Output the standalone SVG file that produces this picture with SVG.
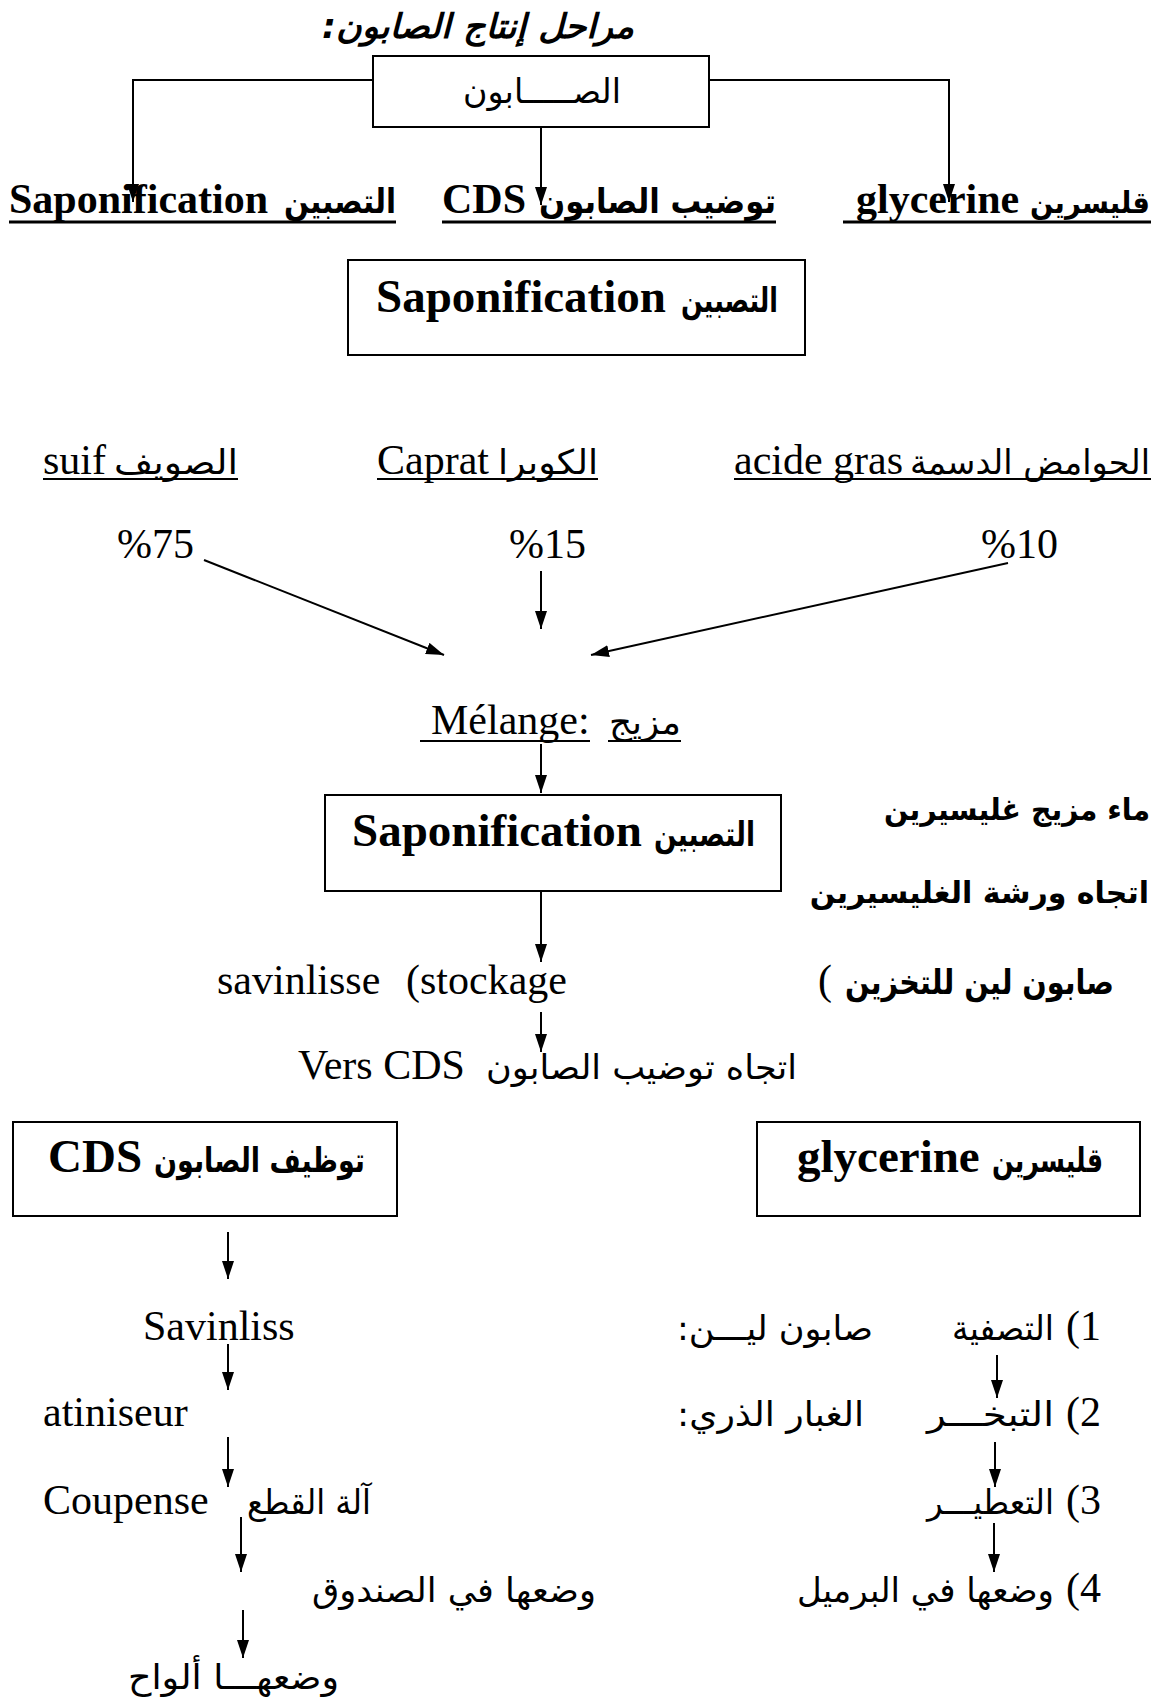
<svg xmlns="http://www.w3.org/2000/svg" width="1163" height="1699" viewBox="0 0 1163 1699">
<style>
.lat{font-family:"Liberation Serif","Times New Roman",serif;font-size:42px;fill:#000}
.latb{font-family:"Liberation Serif","Times New Roman",serif;font-size:42px;font-weight:bold;fill:#000}
.latB{font-family:"Liberation Serif","Times New Roman",serif;font-size:47px;font-weight:bold;fill:#000}
.ar{font-family:"DejaVu Sans","Noto Sans",sans-serif;font-size:34px;fill:#000;text-anchor:middle;direction:rtl;unicode-bidi:embed}
.arb{font-family:"DejaVu Sans","Noto Sans",sans-serif;font-size:34px;font-weight:bold;fill:#000;text-anchor:middle;direction:rtl;unicode-bidi:embed}
.arbe{font-family:"DejaVu Sans","Noto Sans",sans-serif;font-size:30px;font-weight:bold;fill:#000;text-anchor:end}
.box{fill:#fff;stroke:#000;stroke-width:2}
.ul{stroke:#000;stroke-width:2}
.ulb{stroke:#000;stroke-width:3}
.cn{fill:none;stroke:#000;stroke-width:2;marker-end:url(#ah)}
</style>
<defs>
<marker id="ah" markerUnits="userSpaceOnUse" markerWidth="18" markerHeight="12" refX="18" refY="6" orient="auto" viewBox="0 0 18 12">
<path d="M0,0 L18,6 L0,12 Z" fill="#000"/>
</marker>
</defs>
<rect width="1163" height="1699" fill="#fff"/>

<g id="title">
<text class="arb" x="478" y="38" font-style="italic" font-size="30" textLength="312" lengthAdjust="spacingAndGlyphs">مراحل إنتاج الصابون:</text>
</g>

<g id="node-soap">
<rect class="box" x="373" y="56" width="336" height="71" stroke-width="1.5"/>
<text class="ar" x="542" y="103" font-size="30" textLength="158" lengthAdjust="spacingAndGlyphs">الصـــــابون</text>
</g>

<g id="label-saponification">
<text class="latb" x="9" y="213">Saponification</text>
<text class="arb" x="340" y="213" textLength="112" lengthAdjust="spacingAndGlyphs">التصبين</text>
<line class="ulb" x1="9" y1="222" x2="396" y2="222"/>
</g>
<g id="label-cds">
<text class="latb" x="442" y="213">CDS</text>
<text class="arb" x="657.5" y="213" textLength="237" lengthAdjust="spacingAndGlyphs">توضيب الصابون</text>
<line class="ulb" x1="442" y1="222" x2="776" y2="222"/>
</g>
<g id="label-glycerine">
<text class="latb" x="856" y="213">glycerine</text>
<text class="arbe" x="1150" y="213" textLength="120" lengthAdjust="spacingAndGlyphs">قليسرين</text>
<line class="ulb" x1="843" y1="222" x2="1151" y2="222"/>
</g>

<g id="node-saponification-1">
<rect class="box" x="348" y="260" width="457" height="95"/>
<text class="latB" x="376" y="312">Saponification</text>
<text class="arb" x="729.5" y="312" textLength="97" lengthAdjust="spacingAndGlyphs">التصبين</text>
</g>

<g id="label-suif">
<text class="lat" x="43" y="474">suif</text>
<text class="ar" x="176" y="474" textLength="124" lengthAdjust="spacingAndGlyphs">الصويف</text>
<line class="ul" x1="43" y1="479" x2="238" y2="479"/>
</g>
<g id="label-caprat">
<text class="lat" x="377" y="474">Caprat</text>
<text class="ar" x="548" y="474" textLength="100" lengthAdjust="spacingAndGlyphs">الكوبرا</text>
<line class="ul" x1="377" y1="479" x2="598" y2="479"/>
</g>
<g id="label-acide">
<text class="lat" x="734" y="474">acide gras</text>
<text class="ar" x="1030" y="474" font-size="32" textLength="240" lengthAdjust="spacingAndGlyphs">الحوامض الدسمة</text>
<line class="ul" x1="734" y1="479" x2="1151" y2="479"/>
</g>

<g id="pct-75"><text class="lat" x="117" y="558">%75</text></g>
<g id="pct-15"><text class="lat" x="509" y="558">%15</text></g>
<g id="pct-10"><text class="lat" x="981" y="558">%10</text></g>

<g id="node-melange">
<text class="lat" x="431" y="734">Mélange:</text>
<text class="ar" x="645" y="734" textLength="72" lengthAdjust="spacingAndGlyphs">مزيج</text>
<line class="ul" x1="420" y1="741" x2="590" y2="741"/>
<line class="ul" x1="608" y1="741" x2="681" y2="741"/>
</g>

<g id="node-saponification-2">
<rect class="box" x="325" y="795" width="456" height="96"/>
<text class="latB" x="352" y="846">Saponification</text>
<text class="arb" x="704.5" y="846" textLength="101" lengthAdjust="spacingAndGlyphs">التصبين</text>
</g>

<g id="note-water">
<text class="arbe" x="1150" y="820" textLength="266" lengthAdjust="spacingAndGlyphs">ماء مزيج غليسيرين</text>
<text class="arbe" x="1149" y="903" font-size="26.5">اتجاه ورشة الغليسيرين</text>
</g>

<g id="node-stockage">
<text class="lat" x="217" y="994">savinlisse</text>
<text class="lat" x="406" y="994">(stockage</text>
<text class="lat" x="818" y="994">(</text>
<text class="arb" x="979.5" y="994" font-size="32" textLength="269" lengthAdjust="spacingAndGlyphs">صابون لين للتخزين</text>
</g>

<g id="node-vers-cds">
<text class="lat" x="298" y="1079">Vers CDS</text>
<text class="ar" x="641.5" y="1079" textLength="311" lengthAdjust="spacingAndGlyphs">اتجاه توضيب الصابون</text>
</g>

<g id="node-cds">
<rect class="box" x="13" y="1122" width="384" height="94"/>
<text class="latB" x="48" y="1172">CDS</text>
<text class="arb" x="259.5" y="1172" textLength="211" lengthAdjust="spacingAndGlyphs">توظيف الصابون</text>
</g>

<g id="node-glycerine">
<rect class="box" x="757" y="1122" width="383" height="94"/>
<text class="latB" x="797" y="1172">glycerine</text>
<text class="arb" x="1047.5" y="1172" textLength="111" lengthAdjust="spacingAndGlyphs">قليسرين</text>
</g>

<g id="node-savinliss"><text class="lat" x="143" y="1340">Savinliss</text></g>
<g id="node-atiniseur"><text class="lat" x="43" y="1426">atiniseur</text></g>
<g id="node-coupense">
<text class="lat" x="43" y="1514">Coupense</text>
<text class="ar" x="309" y="1514" textLength="124" lengthAdjust="spacingAndGlyphs">آلة القطع</text>
</g>
<g id="node-box"><text class="ar" x="454" y="1602" textLength="284" lengthAdjust="spacingAndGlyphs">وضعها في الصندوق</text></g>
<g id="node-plates"><text class="ar" x="233.5" y="1689" textLength="211" lengthAdjust="spacingAndGlyphs">وضعهـــا ألواح</text></g>

<g id="node-step1">
<text class="lat" x="1066" y="1340">(1</text>
<text class="ar" x="1003" y="1340" textLength="102" lengthAdjust="spacingAndGlyphs">التصفية</text>
<text class="ar" x="775" y="1340" textLength="196" lengthAdjust="spacingAndGlyphs">صابون ليـــن:</text>
</g>
<g id="node-step2">
<text class="lat" x="1066" y="1426">(2</text>
<text class="ar" x="990.5" y="1426" textLength="127" lengthAdjust="spacingAndGlyphs">التبخـــر</text>
<text class="ar" x="770.5" y="1426" textLength="187" lengthAdjust="spacingAndGlyphs">الغبار الذري:</text>
</g>
<g id="node-step3">
<text class="lat" x="1066" y="1514">(3</text>
<text class="ar" x="990.5" y="1514" textLength="127" lengthAdjust="spacingAndGlyphs">التعطيـــر</text>
</g>
<g id="node-step4">
<text class="lat" x="1066" y="1602">(4</text>
<text class="ar" x="925.5" y="1602" textLength="257" lengthAdjust="spacingAndGlyphs">وضعها في البرميل</text>
</g>

<g id="connectors">
<polyline class="cn" points="373,80 133,80 133,202"/>
<polyline class="cn" points="709,80 949,80 949,202"/>
<line class="cn" x1="541" y1="127" x2="541" y2="205"/>
<line class="cn" x1="204" y1="560" x2="444" y2="655"/>
<line class="cn" x1="541" y1="571" x2="541" y2="629"/>
<line class="cn" x1="1008" y1="563" x2="591" y2="655"/>
<line class="cn" x1="541" y1="744" x2="541" y2="793"/>
<line class="cn" x1="541" y1="891" x2="541" y2="962"/>
<line class="cn" x1="541" y1="1012" x2="541" y2="1052"/>
<line class="cn" x1="228" y1="1232" x2="228" y2="1279"/>
<line class="cn" x1="228" y1="1344" x2="228" y2="1390"/>
<line class="cn" x1="228" y1="1437" x2="228" y2="1487"/>
<line class="cn" x1="241" y1="1517" x2="241" y2="1572"/>
<line class="cn" x1="243" y1="1610" x2="243" y2="1658"/>
<line class="cn" x1="997" y1="1355" x2="997" y2="1398"/>
<line class="cn" x1="995" y1="1442" x2="995" y2="1487"/>
<line class="cn" x1="994" y1="1523" x2="994" y2="1572"/>
</g>
</svg>
